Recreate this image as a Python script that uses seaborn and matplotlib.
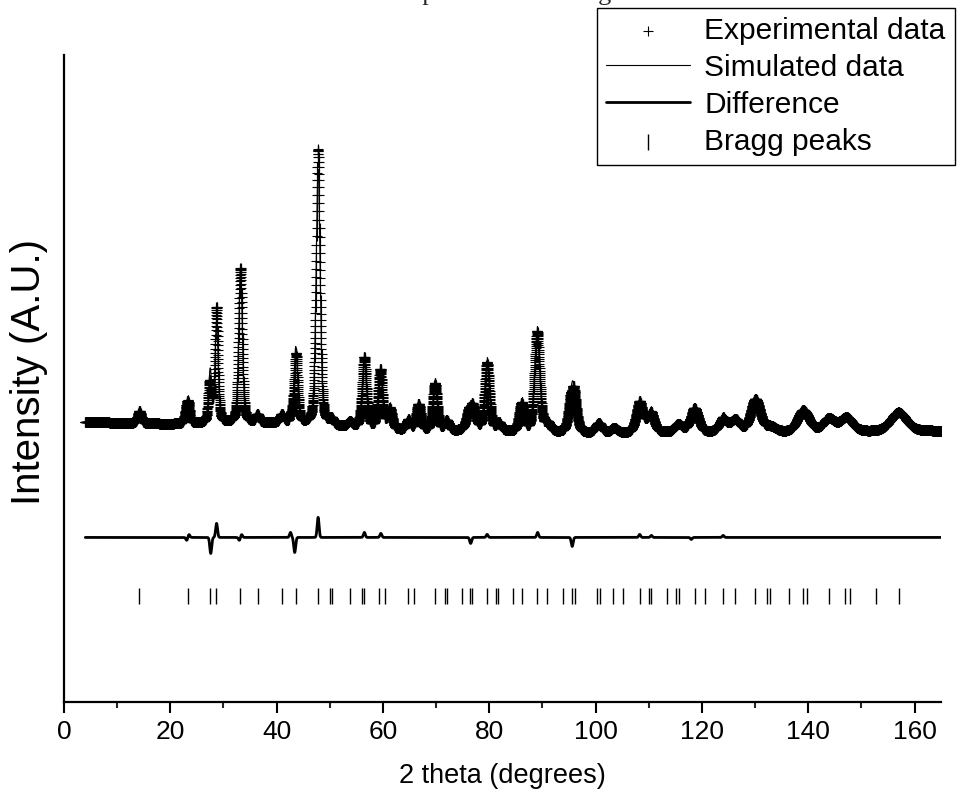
import numpy as np
import pandas as pd
import matplotlib
matplotlib.use("Agg")
import matplotlib.pyplot as plt
from matplotlib.ticker import MultipleLocator
import seaborn as sns

# reflections: position (deg), height above background, fwhm (deg)
peak_pos = [14.2, 23.2, 27.5, 28.7, 33.2, 36.4, 41.0, 43.6, 47.8, 50.3,
            53.8, 56.5, 59.5, 61.3, 64.8, 66.7, 69.8, 72.0, 76.6, 79.6,
            81.8, 86.1, 89.0, 91.0, 95.7, 100.6, 103.5, 108.3, 110.4, 115.6,
            118.6, 124.0, 126.3, 130.1, 133.0, 139.1, 143.9, 147.2, 157.0]
peak_height = [12, 24, 52, 100, 154, 8, 8, 76, 255, 6,
               5, 65, 55, 20, 10, 26, 47, 10, 30, 65,
               8, 28, 96, 8, 52, 10, 5, 28, 18, 8,
               24, 12, 12, 33, 5, 22, 13, 14, 19]
peak_fwhm = [0.8, 0.8, 0.7, 0.7, 0.8, 0.8, 0.9, 0.8, 0.9, 0.9,
             1.0, 1.0, 1.0, 1.0, 1.0, 1.0, 1.0, 1.0, 1.6, 1.1,
             1.1, 1.1, 1.2, 1.2, 1.4, 1.5, 1.5, 1.6, 1.6, 1.7,
             1.8, 1.9, 2.0, 2.1, 2.2, 2.6, 2.6, 2.8, 3.6]

# background level along the scan
bg_x = [4, 20, 40, 55, 65, 80, 100, 115, 140, 165]
bg_y = [279, 277, 278, 273, 270, 269, 267, 268, 268, 270]

# misfit features in the difference curve
diff_pos = [23.1, 23.5, 27.6, 28.7, 33.0, 33.4, 42.6, 43.4, 47.8, 56.5,
            59.6, 76.5, 79.6, 89.1, 95.6, 108.3, 110.5, 118.0, 124.0]
diff_amp = [-3, 3, -16, 14, -3, 3, 5, -15, 20, 5,
            4, -6, 3, 5, -9, 3, 2, -2, 2]
diff_level = 164

bragg_pos = [14.2, 23.3, 27.5, 28.5, 33.2, 36.4, 41.0, 43.6, 47.7, 50.1,
             50.4, 53.8, 56.0, 56.5, 59.3, 60.4, 64.7, 65.9, 69.8, 71.7,
             72.1, 74.8, 76.4, 76.8, 79.5, 81.3, 81.7, 84.4, 86.1, 89.0,
             90.9, 93.8, 95.5, 96.1, 100.3, 100.8, 103.3, 105.2, 108.3, 110.1,
             110.5, 113.4, 115.2, 115.7, 118.7, 120.6, 124.0, 126.2, 130.0, 132.3,
             132.8, 136.4, 139.0, 139.8, 143.9, 146.9, 147.9, 152.8, 157.1]
bragg_level = 106

# build the scan from the reflection list
tt = np.arange(4.0, 165.0, 0.02)
sim = np.interp(tt, bg_x, bg_y)
for p, h, w in zip(peak_pos, peak_height, peak_fwhm):
    g = np.exp(-4 * np.log(2) * ((tt - p) / w) ** 2)
    l = 1 / (1 + 4 * ((tt - p) / w) ** 2)
    sim = sim + h * (0.6 * g + 0.4 * l)

misfit = np.zeros_like(tt)
for p, a in zip(diff_pos, diff_amp):
    misfit = misfit + a * np.exp(-((tt - p) / 0.25) ** 2)
exp_y = sim + misfit

df = pd.DataFrame({"tt": tt, "exp": exp_y, "sim": sim, "diff": diff_level + misfit})
bragg = pd.DataFrame({"tt": bragg_pos, "y": bragg_level})

sns.set_style("ticks")
plt.rcParams["font.family"] = ["Liberation Sans", "DejaVu Sans"]

fig = plt.figure(figsize=(9.67, 8.01), dpi=100)
ax = fig.add_axes([0.0662, 0.1236, 0.907, 0.808])

sns.scatterplot(data=df, x="tt", y="exp", marker="+", s=60, color="black",
                linewidth=0.8, ax=ax, label="Experimental data", zorder=2)
sns.lineplot(data=df, x="tt", y="sim", color="black", lw=0.8, ax=ax,
             label="Simulated data", estimator=None, errorbar=None, zorder=3)
sns.lineplot(data=df, x="tt", y="diff", color="black", lw=2.0, ax=ax,
             label="Difference", estimator=None, errorbar=None)
sns.scatterplot(data=bragg, x="tt", y="y", marker="|", s=120, color="black",
                linewidth=1.0, ax=ax, label="Bragg peaks")

ax.set_xlim(0, 165)
ax.set_ylim(0, 645)
ax.set_yticks([])
ax.xaxis.set_major_locator(MultipleLocator(20))
ax.xaxis.set_minor_locator(MultipleLocator(10))
ax.tick_params(axis="x", which="major", direction="out", length=8, width=1.5,
               labelsize=19, color="black", labelcolor="black", pad=5)
ax.tick_params(axis="x", which="minor", direction="out", length=4, width=1.5)
for side in ["left", "bottom"]:
    ax.spines[side].set_linewidth(1.6)
    ax.spines[side].set_color("black")
sns.despine(ax=ax)

ax.set_xlabel("2 theta (degrees)", fontsize=19.5, labelpad=14, color="black")
ax.set_ylabel("Intensity (A.U.)", fontsize=29, color="black")
ax.yaxis.set_label_coords(-0.018, 0.51)

# title sits mostly above the canvas, only its descenders show
fig.text(0.309, 1.0, "Diffraction pattern and fitting", family=["Liberation Serif", "DejaVu Serif"],
         fontsize=19, ha="left", va="baseline")

leg = ax.legend(loc="upper left", bbox_to_anchor=(597 / 967, 1 - 8 / 801),
                bbox_transform=fig.transFigure, borderaxespad=0, fancybox=False,
                frameon=True, edgecolor="black", framealpha=1, fontsize=21.5,
                handlelength=2.8, handletextpad=0.5, labelspacing=0.3, borderpad=0.3)
leg.get_frame().set_linewidth(1.0)
for t in leg.get_texts():
    t.set_color("black")

fig.savefig("out.png", dpi=100)
